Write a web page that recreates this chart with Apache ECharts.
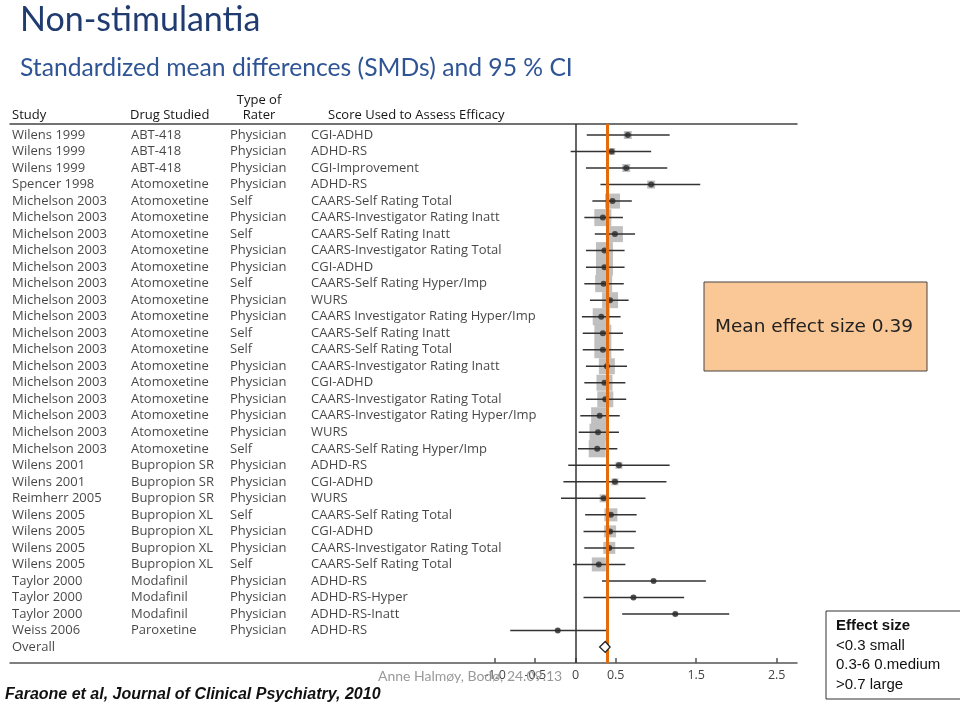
<!DOCTYPE html>
<html><head><meta charset="utf-8">
<script src="https://cdn.jsdelivr.net/npm/echarts@6/dist/echarts.min.js"></script>
<style>html,body{margin:0;padding:0;background:#fff}#c{width:960px;height:707px}</style>
</head><body><div id="c"></div>
<script>
// ---------------- data ----------------
const studies = ['Wilens 1999','Wilens 1999','Wilens 1999','Spencer 1998','Michelson 2003','Michelson 2003','Michelson 2003','Michelson 2003','Michelson 2003','Michelson 2003','Michelson 2003','Michelson 2003','Michelson 2003','Michelson 2003','Michelson 2003','Michelson 2003','Michelson 2003','Michelson 2003','Michelson 2003','Michelson 2003','Wilens 2001','Wilens 2001','Reimherr 2005','Wilens 2005','Wilens 2005','Wilens 2005','Wilens 2005','Taylor 2000','Taylor 2000','Taylor 2000','Weiss 2006'];
const drugs = ['ABT-418','ABT-418','ABT-418','Atomoxetine','Atomoxetine','Atomoxetine','Atomoxetine','Atomoxetine','Atomoxetine','Atomoxetine','Atomoxetine','Atomoxetine','Atomoxetine','Atomoxetine','Atomoxetine','Atomoxetine','Atomoxetine','Atomoxetine','Atomoxetine','Atomoxetine','Bupropion SR','Bupropion SR','Bupropion SR','Bupropion XL','Bupropion XL','Bupropion XL','Bupropion XL','Modafinil','Modafinil','Modafinil','Paroxetine'];
const raters = ['Physician','Physician','Physician','Physician','Self','Physician','Self','Physician','Physician','Self','Physician','Physician','Self','Self','Physician','Physician','Physician','Physician','Physician','Self','Physician','Physician','Physician','Self','Physician','Physician','Self','Physician','Physician','Physician','Physician'];
const scores = ['CGI-ADHD','ADHD-RS','CGI-Improvement','ADHD-RS','CAARS-Self Rating Total','CAARS-Investigator Rating Inatt','CAARS-Self Rating Inatt','CAARS-Investigator Rating Total','CGI-ADHD','CAARS-Self Rating Hyper/Imp','WURS','CAARS Investigator Rating Hyper/Imp','CAARS-Self Rating Inatt','CAARS-Self Rating Total','CAARS-Investigator Rating Inatt','CGI-ADHD','CAARS-Investigator Rating Total','CAARS-Investigator Rating Hyper/Imp','WURS','CAARS-Self Rating Hyper/Imp','ADHD-RS','CGI-ADHD','WURS','CAARS-Self Rating Total','CGI-ADHD','CAARS-Investigator Rating Total','CAARS-Self Rating Total','ADHD-RS','ADHD-RS-Hyper','ADHD-RS-Inatt','ADHD-RS'];
const smd    = [0.65,0.45,0.63,0.94,0.46,0.34,0.49,0.36,0.36,0.35,0.43,0.32,0.34,0.34,0.39,0.36,0.37,0.30,0.28,0.27,0.54,0.49,0.35,0.44,0.43,0.42,0.29,0.97,0.72,1.24,-0.22];
const ciLow  = [0.14,-0.06,0.13,0.31,0.21,0.11,0.24,0.13,0.13,0.11,0.18,0.08,0.09,0.09,0.13,0.11,0.13,0.06,0.04,0.03,-0.09,-0.15,-0.18,0.12,0.10,0.11,-0.03,0.33,0.10,0.58,-0.81];
const ciHigh = [1.17,0.94,1.14,1.55,0.70,0.59,0.74,0.61,0.61,0.60,0.66,0.56,0.59,0.60,0.64,0.62,0.63,0.55,0.54,0.52,1.17,1.13,0.87,0.76,0.75,0.73,0.62,1.62,1.35,1.91,0.38];
const weights = [4,3.5,4,4,7.5,8.5,8,8.5,8.5,8.5,8,8.5,8.5,8.5,8,8,8,8.5,8.5,8.5,3.5,3.5,4,6.5,6,6,7,2,2,2,2];
const overallLabel = 'Overall';
const overallSmd = 0.37, overallLow = 0.30, overallHigh = 0.43;
const meanEffect = 0.39;
const xTicks = [-1, -0.5, 0, 0.5, 1.5, 2.5];
const xTickLabels = ['-1.0','-0.5','0','0.5','1.5','2.5'];
const headers = ['Study','Drug Studied','Type of\nRater','Score Used to Assess Efficacy'];

// ---------------- layout ----------------
const colX = [2, 121, 220, 301];   // table column offsets (px scale axis)
const nRows = studies.length;
const tableFont = '"Open Sans", sans-serif';
const textCol = '#151515';

const tableData = [];
for (let i = 0; i < nRows; i++) {
  [studies[i], drugs[i], raters[i], scores[i]].forEach((t, c) => tableData.push([colX[c], i, t]));
}
tableData.push([colX[0], nRows, overallLabel]);

const ciData = smd.map((v, i) => [ciLow[i], ciHigh[i], i]);
const boxData = smd.map((v, i) => ({value: [v, i], symbolSize: weights[i] * 2}));
const dotData = smd.map((v, i) => [v, i]);

const chart = echarts.init(document.getElementById('c'), null, {renderer: 'canvas'});
chart.setOption({
  animation: false,
  backgroundColor: '#fff',
  grid: {left: 10, right: 163, top: 124, bottom: 44, containLabel: false},
  xAxis: [{
    type: 'value', position: 'bottom', min: -7.025, max: 2.752,
    axisLine: {show: true, onZero: false, lineStyle: {color: '#555', width: 1.5}},
    axisTick: {show: true, inside: true, length: 5, customValues: xTicks, lineStyle: {color: '#555', width: 1.5}},
    axisLabel: {show: true, customValues: xTicks, formatter: v => xTickLabels[xTicks.indexOf(v)], color: '#444', fontSize: 12.5, fontFamily: tableFont, margin: 6},
    splitLine: {show: false}
  }, {
    type: 'value', position: 'top', min: 0, max: 787,
    axisLine: {show: true, onZero: false, lineStyle: {color: '#444', width: 1.5}},
    axisTick: {show: false}, axisLabel: {show: false}, splitLine: {show: false}
  }],
  yAxis: {type: 'value', inverse: true, min: -0.667, max: 31.97, show: false},
  series: [
    {
      type: 'scatter', xAxisIndex: 1, data: tableData, symbolSize: 0, clip: false, silent: true,
      label: {show: true, position: 'right', distance: 0, formatter: p => p.value[2], color: textCol, fontSize: 13, fontFamily: tableFont}
    },
    {
      type: 'scatter', xAxisIndex: 0, data: boxData, symbol: 'rect', z: 2,
      itemStyle: {color: '#b9b9b9', opacity: 0.9}
    },
    {
      type: 'custom', xAxisIndex: 0, data: ciData, z: 3,
      encode: {x: [0, 1], y: 2},
      renderItem: (params, api) => {
        const a = api.coord([api.value(0), api.value(2)]);
        const b = api.coord([api.value(1), api.value(2)]);
        return {type: 'line', shape: {x1: a[0], y1: a[1], x2: b[0], y2: b[1]}, style: {stroke: '#333', lineWidth: 1.5}};
      }
    },
    {
      type: 'scatter', xAxisIndex: 0, data: dotData, symbol: 'circle', symbolSize: 6, z: 4,
      itemStyle: {color: '#2a2a2a'},
      markLine: {
        silent: true, symbol: 'none', label: {show: false}, z: 5,
        data: [
          {xAxis: 0, lineStyle: {color: '#333', width: 1.5, type: 'solid'}},
          {xAxis: meanEffect, lineStyle: {color: '#E36C09', width: 3, type: 'solid'}}
        ]
      }
    },
    {
      type: 'custom', xAxisIndex: 0, data: [[overallLow, overallHigh, overallSmd, nRows]], z: 6,
      encode: {x: [0, 1, 2], y: 3},
      renderItem: (params, api) => {
        const r = api.value(3);
        const pts = [
          api.coord([api.value(0), r]),
          api.coord([api.value(2), r - 0.33]),
          api.coord([api.value(1), r]),
          api.coord([api.value(2), r + 0.33])
        ];
        return {type: 'polygon', shape: {points: pts}, style: {fill: '#fff', stroke: '#222', lineWidth: 1.3}};
      }
    }
  ],
  graphic: [
    {type: 'text', x: 20, y: 20, z: 100, style: {text: 'Non-stimulantia', fill: '#1F3B6F', font: '34px Lato, sans-serif', verticalAlign: 'middle'}},
    {type: 'text', x: 20, y: 68, z: 100, style: {text: 'Standardized mean differences (SMDs) and 95 % CI', fill: '#2F5496', font: '24.7px Lato, sans-serif', verticalAlign: 'middle'}},
    {type: 'text', x: 12, y: 115, z: 100, style: {text: headers[0], fill: textCol, font: '13px ' + tableFont, verticalAlign: 'middle'}},
    {type: 'text', x: 130, y: 115, z: 100, style: {text: headers[1], fill: textCol, font: '13px ' + tableFont, verticalAlign: 'middle'}},
    {type: 'text', x: 259, y: 108, z: 100, style: {text: headers[2], fill: textCol, font: '13px ' + tableFont, align: 'center', verticalAlign: 'middle', lineHeight: 15}},
    {type: 'text', x: 328, y: 115, z: 100, style: {text: headers[3], fill: textCol, font: '13px ' + tableFont, verticalAlign: 'middle'}},
    {type: 'rect', shape: {x: 704, y: 282, width: 223, height: 89}, z: 100, style: {fill: '#FAC896', stroke: '#444', lineWidth: 1}},
    {type: 'text', x: 814, y: 327, z: 101, style: {text: 'Mean effect size 0.39', fill: '#222', font: '18.5px "DejaVu Sans", sans-serif', align: 'center', verticalAlign: 'middle'}},
    {type: 'rect', shape: {x: 826, y: 611, width: 140, height: 88}, z: 100, style: {fill: '#fff', stroke: '#333', lineWidth: 1}},
    {type: 'text', x: 836, y: 626, z: 101, style: {text: 'Effect size', fill: '#111', font: 'bold 15px "Liberation Sans", Arial, sans-serif', verticalAlign: 'middle'}},
    {type: 'text', x: 836, y: 646, z: 101, style: {text: '<0.3 small', fill: '#111', font: '15px "Liberation Sans", Arial, sans-serif', verticalAlign: 'middle'}},
    {type: 'text', x: 836, y: 665, z: 101, style: {text: '0.3-6 0.medium', fill: '#111', font: '15px "Liberation Sans", Arial, sans-serif', verticalAlign: 'middle'}},
    {type: 'text', x: 836, y: 685, z: 101, style: {text: '>0.7 large', fill: '#111', font: '15px "Liberation Sans", Arial, sans-serif', verticalAlign: 'middle'}},
    {type: 'text', x: 5, y: 695, z: 100, style: {text: 'Faraone et al, Journal of Clinical Psychiatry, 2010', fill: '#111', font: 'italic bold 16px "Liberation Sans", Arial, sans-serif', verticalAlign: 'middle'}},
    {type: 'text', x: 378, y: 676, z: 100, style: {text: 'Anne Halmøy, Bodø, 24.09.13', fill: '#999', font: '14px Lato, sans-serif', verticalAlign: 'middle'}}
  ]
});
</script></body></html>
